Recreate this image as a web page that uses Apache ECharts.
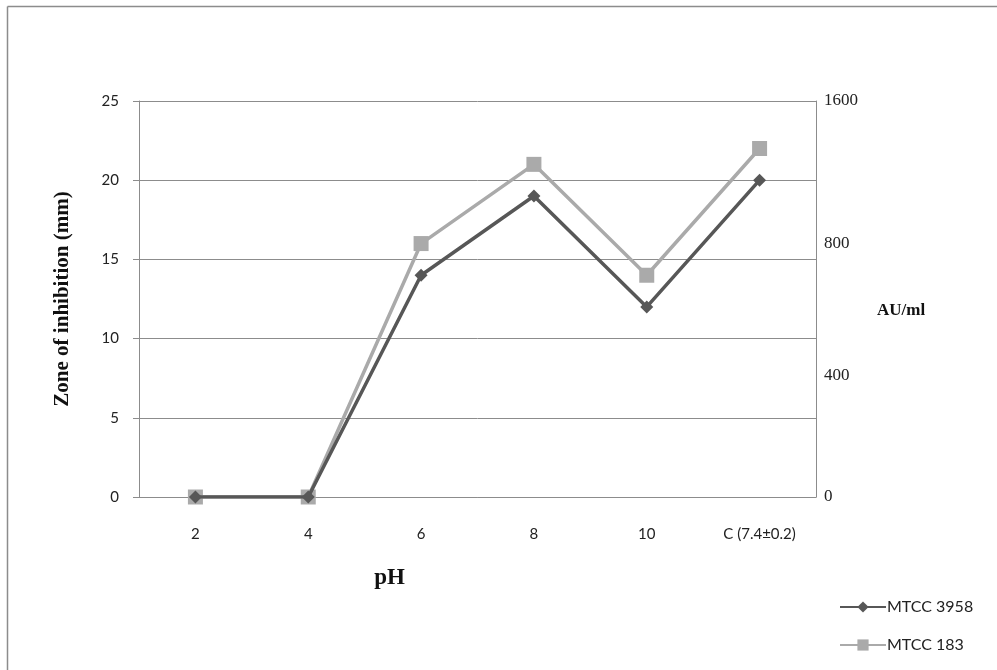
<!DOCTYPE html>
<html>
<head>
<meta charset="utf-8">
<script src="https://cdn.jsdelivr.net/npm/echarts@6/dist/echarts.min.js"></script>
<style>
html,body{margin:0;padding:0;background:#fff;}
#chart{width:997px;height:670px;}
</style>
</head>
<body>
<div id="chart"></div>
<script>
const categories = ['2', '4', '6', '8', '10', 'C (7.4±0.2)'];
const mtcc3958 = [0, 0, 14, 19, 12, 20];
const mtcc183 = [0, 0, 16, 21, 14, 22];
const leftTicks = [0, 5, 10, 15, 20, 25];
const rightTickPositions = [0, 7.7, 16, 25];
const rightTickLabels = ['0', '400', '800', '1600'];

const chart = echarts.init(document.getElementById('chart'));
const labelFont = 'Lato, "Open Sans", sans-serif';
chart.setOption({
  animation: false,
  backgroundColor: '#fff',
  grid: { left: 139, right: 181, top: 101, bottom: 173 },
  graphic: [
    { type: 'line', shape: { x1: 7.5, y1: 6.5, x2: 997, y2: 6.5 }, style: { stroke: '#8c8c8c', lineWidth: 1.5 } },
    { type: 'line', shape: { x1: 7.5, y1: 6.5, x2: 7.5, y2: 670 }, style: { stroke: '#8c8c8c', lineWidth: 1.5 } }
  ],
  legend: {
    orient: 'vertical',
    left: 834,
    top: 594,
    itemWidth: 46,
    itemHeight: 14,
    itemGap: 22,
    textStyle: { fontFamily: labelFont, fontSize: 16, color: '#222', padding: [0, 0, 0, -4] },
    data: ['MTCC 3958', 'MTCC 183']
  },
  xAxis: {
    type: 'category',
    data: categories,
    boundaryGap: true,
    name: 'pH',
    nameLocation: 'middle',
    nameGap: 70,
    nameTextStyle: { fontFamily: '"Liberation Serif", serif', fontWeight: 'bold', fontSize: 23, color: '#111', padding: [0, 176, 0, 0] },
    axisLine: { lineStyle: { color: '#8c8c8c', width: 1 } },
    axisTick: { show: false },
    axisLabel: { fontFamily: labelFont, fontSize: 15, color: '#222', margin: 30 }
  },
  yAxis: [
    {
      type: 'value',
      min: 0, max: 25, interval: 5,
      position: 'left',
      name: 'Zone of inhibition (mm)',
      nameLocation: 'middle',
      nameGap: 66,
      nameTextStyle: { fontFamily: '"Liberation Serif", serif', fontWeight: 'bold', fontSize: 21, color: '#111' },
      axisLine: { show: true, lineStyle: { color: '#8c8c8c', width: 1 } },
      axisTick: { show: true, length: 6, lineStyle: { color: '#8c8c8c' } },
      axisLabel: { fontFamily: labelFont, fontSize: 15, color: '#222', margin: 20,
        formatter: v => leftTicks.includes(v) ? String(v) : '' },
      splitLine: { show: true, lineStyle: { color: '#8c8c8c', width: 1 } }
    },
    {
      type: 'value',
      min: 0, max: 25,
      position: 'right',
      name: 'AU/ml',
      nameLocation: 'middle',
      nameGap: 61,
      nameRotate: 0,
      nameTextStyle: { fontFamily: '"Liberation Serif", serif', fontWeight: 'bold', fontSize: 17, color: '#111', align: 'left', verticalAlign: 'top', lineHeight: 24 },
      axisLine: { show: true, lineStyle: { color: '#8c8c8c', width: 1 } },
      axisTick: { show: false },
      splitLine: { show: false },
      axisLabel: {
        customValues: rightTickPositions,
        fontFamily: '"Liberation Serif", serif', fontSize: 17, color: '#222', margin: 8,
        formatter: v => {
          const i = rightTickPositions.indexOf(v);
          return i >= 0 ? rightTickLabels[i] : '';
        }
      }
    }
  ],
  series: [
    {
      name: 'MTCC 3958',
      type: 'line',
      data: mtcc3958,
      yAxisIndex: 0,
      symbol: 'diamond',
      symbolSize: 13,
      itemStyle: { color: '#575757' },
      lineStyle: { color: '#575757', width: 3.5 },
      z: 3
    },
    {
      name: 'MTCC 183',
      type: 'line',
      data: mtcc183,
      yAxisIndex: 0,
      symbol: 'rect',
      symbolSize: 15,
      itemStyle: { color: '#aaaaaa' },
      lineStyle: { color: '#aaaaaa', width: 3.5 },
      z: 2
    }
  ]
});
</script>
</body>
</html>
